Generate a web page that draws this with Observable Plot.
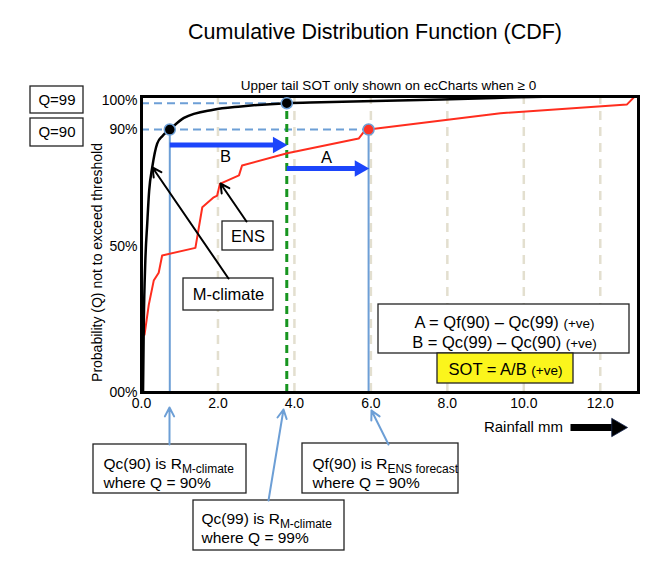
<!DOCTYPE html>
<html><head><meta charset="utf-8">
<script src="https://cdn.jsdelivr.net/npm/d3@7"></script>
<script src="https://cdn.jsdelivr.net/npm/@observablehq/plot@0.6"></script>
<style>
body{margin:0;background:#fff;font-family:"Liberation Sans",Arial,Helvetica,sans-serif;}
#wrap{position:relative;width:650px;height:570px;overflow:hidden;}
#title{position:absolute;left:0;top:0;width:650px;height:60px;}
#title h1{position:absolute;left:375px;top:32px;transform:translate(-50%,-50%);margin:0;font-size:21.5px;line-height:26px;font-weight:normal;white-space:nowrap;color:#000;}
#chart{position:absolute;left:0;top:60px;}
</style></head><body>
<div id="wrap"><div id="title"><h1>Cumulative Distribution Function (CDF)</h1></div><div id="chart"></div></div>
<script>
// ---- data ----
const xTicks = [0, 2, 4, 6, 8, 10, 12];
const xTickLabels = ["0.0", "2.0", "4.0", "6.0", "8.0", "10.0", "12.0"];
const yTicks = [0, 0.5, 0.9, 1.0];
const yTickLabels = ["00%", "50%", "90%", "100%"];
const gridX = [2, 4, 6, 8, 10, 12];

// M-climate CDF (rainfall mm, probability)
const climRain = [0.04, 0.06, 0.1, 0.15, 0.2, 0.28, 0.41, 0.55, 0.74, 1.11, 1.88, 2.6, 3.8, 4.7, 7.0, 9.0, 10.9, 12.97];
const climQ    = [0.0, 0.236, 0.45, 0.578, 0.69, 0.77, 0.852, 0.878, 0.9, 0.94, 0.968, 0.979, 0.99, 0.993, 1.0, 1.007, 1.013, 1.013];

// ENS forecast CDF
const ensRain = [0.08, 0.19, 0.32, 0.45, 0.54, 1.41, 1.59, 1.89, 1.98, 2.05, 2.55, 2.63, 3.81, 5.68, 5.81, 5.94, 9.39, 12.7, 12.88];
const ensQ    = [0.198, 0.30, 0.383, 0.41, 0.469, 0.495, 0.634, 0.668, 0.674, 0.714, 0.743, 0.777, 0.819, 0.869, 0.891, 0.9, 0.956, 0.986, 1.01];

// quantiles
const qc90 = 0.74, qc99 = 3.8, qf90 = 5.94;
const q90 = 0.9, q99 = 0.99;

const yLabel = "Probability (Q) not to exceed threshold";
const subtitle = "Upper tail SOT only shown on ecCharts when \u2265 0";

// ---- layout ----
const W = 650, H = 510, TOP = 60;
const mL = 141, mR = 12, mT = 36, mB = 178;
const xDomain = [0, 13], yDomain = [0, 1.013];
const px2x = px => xDomain[0] + (px - mL) / (W - mL - mR) * (xDomain[1] - xDomain[0]);
const py2y = py => yDomain[0] + ((H - mB) - (py - TOP)) / (H - mT - mB) * (yDomain[1] - yDomain[0]);

const lightBlue = "#6d9fd6", brightBlue = "#1c45fb";

const climData = climRain.map((r, i) => ({r, q: climQ[i]}));
const ensData = ensRain.map((r, i) => ({r, q: ensQ[i]}));

const boxes = [
  {x1: 30, y1: 86, x2: 83, y2: 113, fill: "white"},
  {x1: 30, y1: 118, x2: 83, y2: 146, fill: "white"},
  {x1: 222, y1: 221, x2: 273, y2: 250, fill: "white"},
  {x1: 183, y1: 278, x2: 273, y2: 310, fill: "white"},
  {x1: 378, y1: 304, x2: 629, y2: 353, fill: "white"},
  {x1: 437, y1: 353, x2: 573, y2: 383, fill: "#fbf51c"},
  {x1: 93, y1: 444, x2: 246, y2: 493, fill: "white"},
  {x1: 193, y1: 500, x2: 344, y2: 550, fill: "white"},
  {x1: 302, y1: 443, x2: 458, y2: 493, fill: "white"}
];
const blackPointers = [
  {x1: 246, y1: 221, x2: 220, y2: 183},
  {x1: 228, y1: 278, x2: 152, y2: 167}
];
const bluePointers = [
  {x1: 169, y1: 444, x2: 169, y2: 407},
  {x1: 268, y1: 500, x2: 283, y2: 409},
  {x1: 388, y1: 444, x2: 371, y2: 410}
];
const spanArrows = [
  {from: qc90, to: qc99, py: 144.5},
  {from: qc99, to: qf90, py: 168}
];
const texts16 = [
  {x: 225, y: 156, t: "B"}, {x: 326, y: 157, t: "A"},
  {x: 247.5, y: 236, t: "ENS"}, {x: 228, y: 294.5, t: "M-climate"},
  {x: 504, y: 322, t: "A = Qf(90) \u2013 Qc(99) ^{(+ve)}"},
  {x: 504, y: 342, t: "B = Qc(99) \u2013 Qc(90) ^{(+ve)}"},
  {x: 505, y: 369, t: "SOT = A/B ^{(+ve)}"}
];
const texts15 = [
  {x: 56.5, y: 99.5, t: "Q=99"}, {x: 56.5, y: 132, t: "Q=90"},
  {x: 523, y: 427, t: "Rainfall mm"}
];
const boxTexts = [
  {x: 103, y: 471.5, t: "Qc(90) is R_{M-climate}\nwhere Q = 90%"},
  {x: 201, y: 527, t: "Qc(99) is R_{M-climate}\nwhere Q = 99%"},
  {x: 312, y: 472, t: "Qf(90) is R_{ENS forecast}\nwhere Q = 90%"}
];
const rainArrow = [{x1: 570, x2: 627, y: 427}];

const svg = Plot.plot({
  width: W, height: H,
  marginLeft: mL, marginRight: mR, marginTop: mT, marginBottom: mB,
  style: {fontFamily: "'Liberation Sans', Arial, Helvetica, sans-serif", fontSize: "14px", color: "#000", background: "white", overflow: "visible"},
  x: {domain: xDomain, axis: null},
  y: {domain: yDomain, axis: null},
  marks: [
    Plot.ruleX(gridX, {y1: 0, y2: yDomain[1], stroke: "#e3dfcf", strokeWidth: 2.5, strokeDasharray: "9,7"}),
    Plot.axisX(xTicks, {tickSize: 0, tickPadding: 6, tickFormat: d => xTickLabels[xTicks.indexOf(d)], fontSize: 14, label: null}),
    Plot.axisY(yTicks, {tickSize: 0, tickPadding: 4, tickFormat: d => yTickLabels[yTicks.indexOf(d)], fontSize: 14, label: null}),
    Plot.text([yLabel], {x: () => px2x(97), y: () => py2y(262), text: d => d, rotate: -90, fontSize: 14}),
    Plot.text([subtitle], {x: () => px2x(388), y: () => py2y(85), text: d => d, fontSize: 13.5}),
    // dashed quantile guides
    Plot.ruleY([{q: q99, r: qc99}, {q: q90, r: qf90}], {y: "q", x1: 0, x2: "r", stroke: lightBlue, strokeWidth: 2, strokeDasharray: "8,5"}),
    Plot.ruleX([{r: qc90, q: q90}, {r: qf90, q: q90}], {x: "r", y1: 0, y2: "q", stroke: lightBlue, strokeWidth: 2}),
    Plot.ruleX([qc99], {y1: 0, y2: yDomain[1], stroke: "#17951f", strokeWidth: 3, strokeDasharray: "8,5"}),
    // CDF curves
    Plot.line(ensData, {x: "r", y: "q", stroke: "#ff2d1e", strokeWidth: 2}),
    Plot.line(climData, {x: "r", y: "q", stroke: "black", strokeWidth: 2.5, curve: "monotone-x"}),
    Plot.frame({stroke: "black", strokeWidth: 3}),
    // quantile points
    Plot.dot([{r: qc90, q: q90}, {r: qc99, q: q99}], {x: "r", y: "q", r: 5.5, fill: "black", stroke: lightBlue, strokeWidth: 1.5}),
    Plot.dot([{r: qf90, q: q90}], {x: "r", y: "q", r: 5.5, fill: "#ff3426", stroke: lightBlue, strokeWidth: 1.5}),
    // A and B spans
    Plot.arrow(spanArrows, {x1: "from", x2: "to", y1: d => py2y(d.py), y2: d => py2y(d.py), stroke: brightBlue, strokeWidth: 5, headLength: 0, insetEnd: 9, strokeLinecap: "butt"}),
    Plot.dot(spanArrows, {x: "to", y: d => py2y(d.py), symbol: "triangle", rotate: 90, r: 6.2, fill: brightBlue, dx: -9}),
    // boxes
    Plot.rect(boxes, {x1: d => px2x(d.x1), x2: d => px2x(d.x2), y1: d => py2y(d.y1), y2: d => py2y(d.y2), fill: d => d.fill, stroke: "#222", strokeWidth: 1.3}),
    // pointers
    Plot.arrow(blackPointers, {x1: d => px2x(d.x1), y1: d => py2y(d.y1), x2: d => px2x(d.x2), y2: d => py2y(d.y2), stroke: "black", strokeWidth: 2, headLength: 7.5, headAngle: 55}),
    Plot.arrow(bluePointers, {x1: d => px2x(d.x1), y1: d => py2y(d.y1), x2: d => px2x(d.x2), y2: d => py2y(d.y2), stroke: lightBlue, strokeWidth: 2, headLength: 7.5, headAngle: 55}),
    // rainfall arrow
    Plot.arrow(rainArrow, {x1: d => px2x(d.x1), x2: d => px2x(d.x2), y1: d => py2y(d.y), y2: d => py2y(d.y), stroke: "black", strokeWidth: 7, headLength: 0, insetEnd: 10, strokeLinecap: "butt"}),
    Plot.dot(rainArrow, {x: d => px2x(d.x2), y: d => py2y(d.y), symbol: "triangle", rotate: 90, r: 6.8, fill: "black", stroke: "#1b2a52", strokeWidth: 0.8, dx: -10.5}),
    // texts
    Plot.text(texts16, {x: d => px2x(d.x), y: d => py2y(d.y), text: "t", fontSize: 16.5}),
    Plot.text(texts15, {x: d => px2x(d.x), y: d => py2y(d.y), text: "t", fontSize: 15}),
    Plot.text(boxTexts, {x: d => px2x(d.x), y: d => py2y(d.y), text: "t", fontSize: 15.5, textAnchor: "start", lineHeight: 1.25})
  ]
});

// rich text: _{..} subscript, ^{..} smaller inline text
svg.querySelectorAll("text, tspan").forEach(el => {
  if (el.children.length) return;
  const s = el.textContent;
  if (!/[_^]\{/.test(s)) return;
  el.textContent = "";
  const re = /([_^])\{([^}]*)\}/g;
  let last = 0, m;
  while ((m = re.exec(s))) {
    if (m.index > last) el.appendChild(document.createTextNode(s.slice(last, m.index)));
    const t = document.createElementNS("http://www.w3.org/2000/svg", "tspan");
    if (m[1] === "_") { t.setAttribute("font-size", "12"); t.setAttribute("baseline-shift", "-4"); }
    else { t.setAttribute("font-size", "13.5"); }
    t.textContent = m[2];
    el.appendChild(t);
    last = re.lastIndex;
  }
  if (last < s.length) el.appendChild(document.createTextNode(s.slice(last)));
});

document.getElementById("chart").appendChild(svg);
</script>
</body></html>
